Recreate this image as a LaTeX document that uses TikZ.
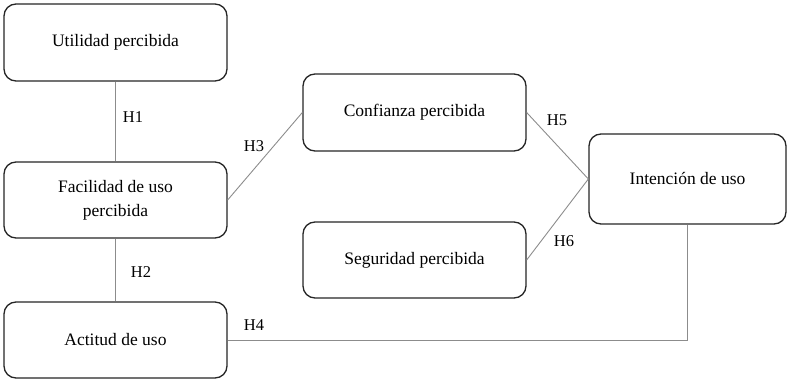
\documentclass[tikz,border=0pt]{standalone}
\usepackage{fontspec}
\setmainfont{Liberation Serif}
\begin{document}
\begin{tikzpicture}[x=1pt,y=-1pt,
  box/.style={draw=black!85, line width=1.3pt, rounded corners=12pt, fill=white,
    align=center, font=\fontsize{17.5}{24}\selectfont, inner sep=0pt},
  conn/.style={draw=black!45, line width=0.9pt},
  hlab/.style={font=\fontsize{16.5}{20}\selectfont, inner sep=0pt}]
\useasboundingbox (0,0) rectangle (787,379);
\node[box, minimum width=223pt, minimum height=77pt] (util) at (115.5,42.5) {Utilidad percibida};
\node[box, minimum width=223pt, minimum height=76pt] (faci) at (115.5,200) {Facilidad de uso\\percibida};
\node[box, minimum width=223pt, minimum height=76pt] (acti) at (115.5,340) {Actitud de uso};
\node[box, minimum width=223pt, minimum height=77pt] (conf) at (414.5,112.5) {Confianza percibida};
\node[box, minimum width=223pt, minimum height=76pt] (segu) at (414.5,260) {Seguridad percibida};
\node[box, minimum width=197pt, minimum height=90pt] (inte) at (687.5,179) {Intención de uso};
\draw[conn] (util) -- (faci);
\draw[conn] (faci) -- (acti);
\draw[conn] (faci.east) -- (conf.west);
\draw[conn] (conf.east) -- (inte.west);
\draw[conn] (segu.east) -- (inte.west);
\draw[conn] (acti.east) -| (inte.south);
\node[hlab] (h1) at (133,117) {H1};
\node[hlab] (h2) at (141,272) {H2};
\node[hlab] (h3) at (254,146) {H3};
\node[hlab] (h4) at (254,325) {H4};
\node[hlab] (h5) at (557,120) {H5};
\node[hlab] (h6) at (564,241) {H6};
\end{tikzpicture}
\end{document}
